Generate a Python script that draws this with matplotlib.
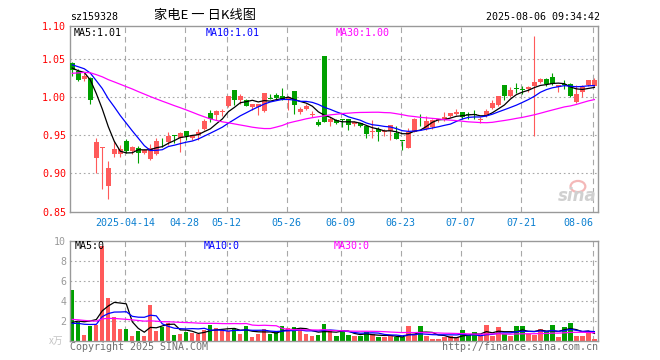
import matplotlib
matplotlib.use("Agg")
import matplotlib.pyplot as plt
from matplotlib.patches import Ellipse
import numpy as np
import pandas as pd

# daily candles 2025-03-31 .. 2025-08-06
open_ = [1.045, 1.034, 1.0237, 1.025, 0.920, 0.933, 0.884, 0.925, 0.926, 0.943,
         0.930, 0.934, 0.927, 0.919, 0.925, 0.943, 0.941, 0.951, 0.946, 0.956,
         0.947, 0.950, 0.958, 0.979, 0.977, 0.981, 0.9886, 1.010, 0.997, 0.996,
         0.987, 0.987, 0.982, 0.9985, 1.0026, 1.002, 0.9965, 1.008, 0.981, 0.985,
         0.977, 0.9676, 1.054, 0.968, 0.970, 0.9705, 0.971, 0.9645, 0.9658, 0.9623,
         0.9546, 0.959, 0.9545, 0.9557, 0.9535, 0.9426, 0.934, 0.9548, 0.9711, 0.959,
         0.9605, 0.970, 0.970, 0.9755, 0.978, 0.981, 0.9768, 0.9768, 0.970, 0.9755,
         0.9855, 0.990, 1.0162, 1.0018, 1.0118, 1.0097, 1.0105, 1.015, 1.0197, 1.0237,
         1.0263, 1.0132, 1.0163, 1.017, 0.9934, 1.0066, 1.0162, 1.0154]
high = [1.047, 1.037, 1.0316, 1.027, 0.947, 0.935, 0.917, 0.943, 0.937, 0.945,
        0.936, 0.936, 0.932, 0.939, 0.946, 0.946, 0.955, 0.951, 0.955, 0.956,
        0.950, 0.958, 0.971, 0.984, 0.984, 0.985, 1.002, 1.010, 1.004, 0.998,
        0.991, 0.991, 1.006, 1.004, 1.006, 1.012, 1.002, 1.008, 0.987, 0.991,
        0.982, 0.971, 1.054, 0.974, 0.971, 0.971, 0.972, 0.969, 0.9667, 0.9636,
        0.970, 0.9605, 0.959, 0.9636, 0.963, 0.9426, 0.960, 0.9724, 0.978, 0.9755,
        0.971, 0.972, 0.981, 0.980, 0.9847, 0.981, 0.981, 0.983, 0.9737, 0.9847,
        0.9965, 1.002, 1.0162, 1.013, 1.0193, 1.015, 1.015, 1.0807, 1.025, 1.025,
        1.0325, 1.0162, 1.0228, 1.0184, 1.016, 1.016, 1.0228, 1.026]
low = [1.028, 1.021, 1.022, 0.991, 0.900, 0.880, 0.867, 0.922, 0.921, 0.927,
       0.926, 0.914, 0.925, 0.918, 0.924, 0.935, 0.937, 0.940, 0.928, 0.944,
       0.944, 0.944, 0.957, 0.968, 0.970, 0.975, 0.987, 0.990, 0.991, 0.988,
       0.983, 0.977, 0.981, 0.9975, 0.998, 0.9965, 0.984, 0.978, 0.978, 0.983,
       0.974, 0.962, 0.967, 0.962, 0.965, 0.961, 0.957, 0.963, 0.9614, 0.946,
       0.946, 0.9425, 0.949, 0.944, 0.9447, 0.931, 0.934, 0.9548, 0.962, 0.957,
       0.959, 0.968, 0.969, 0.9737, 0.9768, 0.971, 0.971, 0.971, 0.966, 0.9746,
       0.9847, 0.989, 0.996, 1.001, 1.0053, 1.0044, 1.0066, 0.949, 1.0184, 1.015,
       1.0162, 1.0075, 1.0105, 1.0009, 0.993, 1.000, 1.015, 1.014]
close = [1.036, 1.023, 1.0285, 0.997, 0.941, 0.934, 0.907, 0.932, 0.932, 0.930,
         0.935, 0.927, 0.931, 0.933, 0.943, 0.942, 0.949, 0.949, 0.953, 0.949,
         0.950, 0.954, 0.969, 0.971, 0.982, 0.982, 1.0018, 0.997, 1.002, 0.989,
         0.991, 0.991, 1.006, 0.998, 0.999, 0.998, 1.001, 0.990, 0.985, 0.988,
         0.978, 0.964, 0.968, 0.971, 0.9667, 0.970, 0.9636, 0.9675, 0.9627, 0.9518,
         0.955, 0.955, 0.955, 0.9636, 0.9452, 0.9424, 0.9548, 0.9715, 0.971, 0.969,
         0.970, 0.971, 0.9737, 0.980, 0.981, 0.9737, 0.9765, 0.9765, 0.971, 0.982,
         0.993, 1.0018, 1.002, 1.0097, 1.0115, 1.0095, 1.014, 1.0197, 1.0237, 1.017,
         1.017, 1.0162, 1.016, 1.0022, 1.0044, 1.0132, 1.0228, 1.0228]
# volume, x万
volume = [5.07, 1.85, 0.57, 1.5, 1.57, 9.45, 4.27, 2.37, 1.17, 1.17,
          0.47, 0.97, 0.47, 3.57, 0.97, 1.4, 1.75, 0.57, 0.7, 0.9,
          0.8, 0.67, 1.07, 1.57, 1.3, 1.07, 0.97, 1.23, 0.67, 1.47,
          0.4, 0.67, 1.17, 0.67, 0.9, 1.47, 1.3, 1.4, 1.17, 0.67,
          0.47, 0.57, 1.67, 1.07, 0.47, 1.07, 0.57, 0.47, 0.47, 0.87,
          0.63, 0.33, 0.33, 0.5, 0.4, 0.33, 1.47, 0.57, 1.47, 0.47,
          0.17, 0.17, 0.33, 0.47, 0.33, 1.07, 0.57, 0.87, 0.47, 1.57,
          0.47, 1.37, 0.63, 0.47, 1.47, 1.47, 0.63, 0.57, 1.17, 0.97,
          1.57, 0.37, 1.37, 1.77, 0.47, 0.47, 0.77, 0.17]

# days before the first candle, back-solved from where the MA lines start
warmup_close = [1.005, 1.010, 1.012, 1.015, 1.020, 1.018, 1.022, 1.025, 1.024, 1.027,
                1.030, 1.028, 1.032, 1.035, 1.031, 1.036, 1.038, 1.035, 1.037, 1.041,
                1.048, 1.055, 1.053, 1.042, 1.037, 1.0405, 1.040, 1.0455, 1.0305]
warmup_volume = [3.1, 2.4, 2.9, 2.2, 2.6, 3.0, 2.3, 2.7, 2.5, 2.1,
                 2.8, 2.4, 2.6, 2.2, 2.85, 1.9, 1.4, 1.7, 1.5, 1.42,
                 1.8, 1.5, 1.7, 1.45, 1.7, 1.2, 0.9, 1.1, 0.88]

tick_idx = [9, 19, 26, 36, 45, 55, 65, 75, 87]
tick_labels = ["2025-04-14", "04-28", "05-12", "05-26", "06-09",
               "06-23", "07-07", "07-21", "08-06"]
price_ticks = [0.85, 0.90, 0.95, 1.00, 1.05]
price_labels = ["0.85", "0.90", "0.95", "1.00", "1.05", "1.10"]
vol_ticks = [2, 4, 6, 8, 10]
price_ma_text = ["MA5:1.01", "MA10:1.01", "MA30:1.00"]
vol_ma_text = ["MA5:0", "MA10:0", "MA30:0"]

RED = "#ff5a5a"
GREEN = "#00a000"
GRID = "#a8a8a8"
FRAME = "#999999"
MA_COLORS = ["black", "#0000ff", "#ff00ff"]
MONO = "DejaVu Sans Mono"
CJK = ["Noto Sans CJK SC", "DejaVu Sans"]
W, H = 660, 360

o = np.array(open_); c = np.array(close)
h = np.array(high); l = np.array(low)
v = np.array(volume)
x = np.arange(len(c))
up = c >= o
cols = np.where(up, RED, GREEN)


def moving(values, warm, n):
    s = pd.Series(list(warm) + list(values))
    return s.rolling(n).mean().to_numpy()[len(warm):]


def px(ax_l, ax_t, ax_r, ax_b):
    return [ax_l / W, 1 - ax_b / H, (ax_r - ax_l) / W, (ax_b - ax_t) / H]


fig = plt.figure(figsize=(W / 100, H / 100), dpi=100)
fig.patch.set_facecolor("white")

grid_x = np.array(tick_idx) - 0.25
xlim = (-0.33, 87.6)

# --- price panel ---
ax = fig.add_axes(px(70.3, 26.3, 598, 211.5))
ytop = 1.0934
ax.set_xlim(*xlim)
ax.set_ylim(0.85, ytop)
for yv in price_ticks[1:]:
    ax.axhline(yv, color=GRID, lw=0.8, ls=(0, (1.5, 2.5)), zorder=0)
for gx in grid_x:
    ax.axvline(gx, color=GRID, lw=0.8, ls=(0, (5, 3.5)), zorder=0)

ax.vlines(x, l, h, colors=cols, lw=0.8, zorder=2)
body = np.maximum(np.abs(c - o), 0.0012)
ax.bar(x, body, bottom=np.minimum(o, c), width=0.75, color=cols, lw=0, zorder=3)

for n, col in zip([5, 10, 30], MA_COLORS):
    ax.plot(x, moving(c, warmup_close, n), color=col, lw=0.9, zorder=4)

ax.set_yticks(price_ticks + [ytop], price_labels)
ax.set_xticks(grid_x, tick_labels)
ax.tick_params(axis="y", length=0, pad=3, labelcolor="#ff0000", labelsize=7.2)
ax.tick_params(axis="x", length=0, pad=5, labelcolor="#0a7fd0", labelsize=7.2)
for t in ax.get_xticklabels() + ax.get_yticklabels():
    t.set_family(MONO)
ax.get_xticklabels()[-1].set_horizontalalignment("right")
for s in ax.spines.values():
    s.set_color(FRAME)
    s.set_linewidth(1.0)

for txt, col, xp in zip(price_ma_text, MA_COLORS, [74, 206, 336]):
    fig.text(xp / W, 1 - 33.5 / H, txt, color=col, family=MONO, fontsize=7.2, va="center")

# sina watermark
ax.add_patch(Ellipse((0.962, 0.135), 0.028, 0.06, transform=ax.transAxes,
                     fill=False, ec="#f4b8b8", lw=1.6, zorder=1))
ax.text(0.997, 0.035, "sina", transform=ax.transAxes, ha="right", va="bottom",
        fontsize=12, fontweight="bold", style="italic", color="#d0d0d0", zorder=1)

# --- volume panel ---
vx = fig.add_axes(px(70.3, 240.7, 598, 340.7))
vx.set_xlim(*xlim)
vx.set_ylim(0, 10)
for yv in vol_ticks[:-1]:
    vx.axhline(yv, color=GRID, lw=0.8, ls=(0, (1.5, 2.5)), zorder=0)
for gx in grid_x:
    vx.axvline(gx, color=GRID, lw=0.8, ls=(0, (5, 3.5)), zorder=0)
vx.bar(x, v, width=0.72, color=cols, lw=0, zorder=2)
for n, col in zip([5, 10, 30], MA_COLORS):
    vx.plot(x, moving(v, warmup_volume, n), color=col, lw=0.9, zorder=3)
vx.set_xticks([])
vx.set_yticks(vol_ticks, [str(t) for t in vol_ticks])
vx.tick_params(axis="y", length=0, pad=3, labelcolor="#9a9a9a", labelsize=7.2)
for t in vx.get_yticklabels():
    t.set_family(MONO)
for s in vx.spines.values():
    s.set_color(FRAME)
    s.set_linewidth(1.0)

for txt, col, xp in zip(vol_ma_text, MA_COLORS, [75, 204, 334]):
    fig.text(xp / W, 1 - 246 / H, txt, color=col, family=MONO, fontsize=7.2, va="center")
fig.text(63 / W, 1 - 341 / H, "x万", color="#c4c4c4", fontsize=7,
         family=CJK, ha="right", va="center")

# --- header / footer ---
fig.text(70 / W, 1 - 16.5 / H, "sz159328", family=MONO, fontsize=7.2, va="center")
fig.text(205 / W, 1 - 15.5 / H, "家电E 一 日K线图", fontsize=9.5, ha="center", va="center",
         family=CJK)
fig.text(600 / W, 1 - 16.5 / H, "2025-08-06 09:34:42", family=MONO, fontsize=7.2,
         ha="right", va="center")
fig.text(70 / W, 1 - 346.5 / H, "Copyright 2025 SINA.COM", family=MONO, fontsize=7.2,
         color="#707070", va="center")
fig.text(598 / W, 1 - 346.5 / H, "http://finance.sina.com.cn", family=MONO, fontsize=7.2,
         color="#707070", ha="right", va="center")

fig.savefig("out.png", dpi=100, facecolor="white")
